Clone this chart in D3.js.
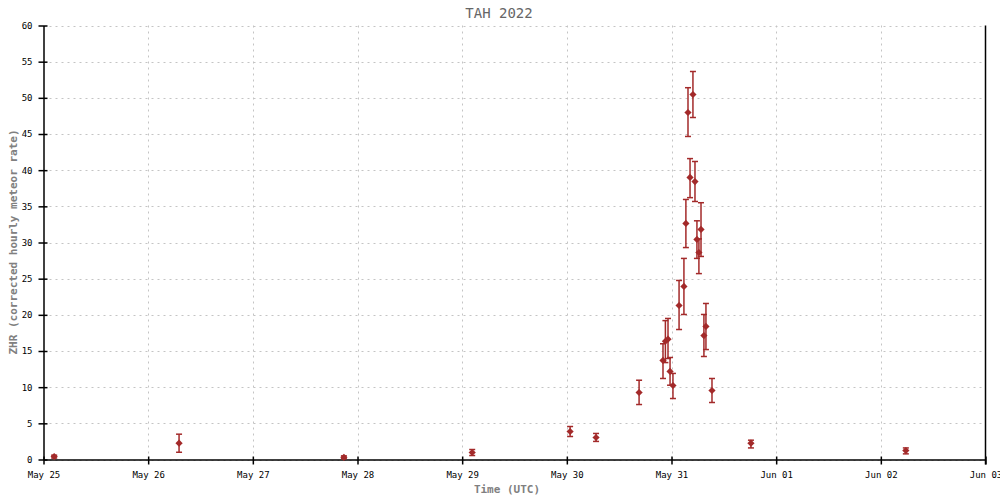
<!DOCTYPE html>
<html><head><meta charset="utf-8">
<script src="https://cdn.jsdelivr.net/npm/d3@7"></script>
<style>body{margin:0;background:#fff}svg{display:block}</style>
</head><body>
<svg id="c" width="1000" height="500"></svg>
<script>
const times = ["2022-05-25T02:27Z","2022-05-26T07:05Z","2022-05-27T20:53Z","2022-05-29T02:18Z","2022-05-30T00:45Z","2022-05-30T06:42Z","2022-05-30T16:34Z","2022-05-30T22:03Z","2022-05-30T22:36Z","2022-05-30T23:12Z","2022-05-30T23:40Z","2022-05-31T00:20Z","2022-05-31T01:44Z","2022-05-31T02:51Z","2022-05-31T03:18Z","2022-05-31T03:47Z","2022-05-31T04:15Z","2022-05-31T04:55Z","2022-05-31T05:23Z","2022-05-31T05:50Z","2022-05-31T06:17Z","2022-05-31T06:46Z","2022-05-31T07:26Z","2022-05-31T07:54Z","2022-05-31T09:17Z","2022-05-31T18:13Z","2022-06-02T05:44Z"];
const zhr   = [0.4,2.25,0.3,0.97,3.87,3.04,9.26,13.69,16.35,16.63,12.17,10.23,21.29,23.92,32.63,47.97,38.99,50.46,38.43,30.42,28.62,31.8,17.14,18.39,9.54,2.25,1.24];
const errLo = [0.2,1.0,0.1,0.55,3.18,2.5,7.6,11.2,13.4,13.96,10.27,8.43,17.97,20.05,29.3,44.66,36.2,47.28,35.67,27.8,25.7,28.07,14.24,15.2,7.88,1.6,0.78];
const errHi = [0.6,3.5,0.5,1.38,4.56,3.6,10.96,16.0,19.2,19.5,14.1,11.9,24.75,27.8,35.95,51.4,41.6,53.64,41.2,33.0,30.5,35.5,20.05,21.57,11.2,2.67,1.6];
const yTicks = [0,5,10,15,20,25,30,35,40,45,50,55,60];
const xTickDates = ["2022-05-25","2022-05-26","2022-05-27","2022-05-28","2022-05-29","2022-05-30","2022-05-31","2022-06-01","2022-06-02","2022-06-03"];
const title = "TAH 2022";
const xTitle = "Time (UTC)";
const yTitle = "ZHR (corrected hourly meteor rate)";

const svg = d3.select("#c");
const L = 43.5, R = 985.5, T = 25.5, B = 459.5;
const x = d3.scaleUtc().domain([new Date("2022-05-25T00:00Z"), new Date("2022-06-03T00:00Z")]).range([L, R]);
const y = d3.scaleLinear().domain([0, 60]).range([B, T]);
const fmt = d3.utcFormat("%b %d");
const xt = xTickDates.map(d => new Date(d + "T00:00Z"));
const mono = "'DejaVu Sans Mono', 'Liberation Mono', monospace";
const grid = "#c4c4c4";
const red = "#a32a2a";

// grid
const g = svg.append("g");
g.selectAll("line.gy").data(yTicks).join("line")
  .attr("x1", L).attr("x2", R).attr("y1", d => Math.round(y(d)) + 0.5).attr("y2", d => Math.round(y(d)) + 0.5)
  .attr("stroke", grid).attr("stroke-dasharray", "2,4");
g.selectAll("line.gx").data(xt.slice(1, -1)).join("line")
  .attr("x1", d => Math.round(x(d)) + 0.5).attr("x2", d => Math.round(x(d)) + 0.5).attr("y1", T).attr("y2", B)
  .attr("stroke", grid).attr("stroke-dasharray", "2,4");

// axes
const xAxis = d3.axisBottom(x).tickValues(xt).tickFormat(fmt).tickSizeInner(5).tickSizeOuter(0).tickPadding(7);
const gx = svg.append("g").attr("transform", `translate(0,${B})`).call(xAxis);
gx.selectAll(".tick line").attr("y1", -3).attr("stroke", "#000").attr("stroke-width", 1.5);
gx.select(".domain").attr("stroke", "#000").attr("stroke-width", 1.5);
gx.selectAll("text").attr("font-family", mono).attr("font-size", 9).attr("fill", "#000");

const yAxis = d3.axisLeft(y).tickValues(yTicks).tickSizeInner(5).tickSizeOuter(0).tickPadding(6);
const gy = svg.append("g").attr("transform", `translate(${L},0)`).call(yAxis);
gy.selectAll(".tick line").attr("x1", 4).attr("stroke", "#000").attr("stroke-width", 1.5);
gy.select(".domain").attr("stroke", "#000").attr("stroke-width", 1.5);
gy.selectAll("text").attr("font-family", mono).attr("font-size", 9).attr("fill", "#000");

// right border
svg.append("line").attr("x1", R).attr("x2", R).attr("y1", T).attr("y2", B + 5).attr("stroke", "#000").attr("stroke-width", 1.5);

// data
const data = times.map((t, i) => ({t: new Date(t), v: zhr[i], lo: errLo[i], hi: errHi[i]}));
const pts = svg.append("g");
const eb = pts.selectAll("g.e").data(data).join("g").attr("stroke", red).attr("stroke-width", 1.5);
eb.append("line").attr("x1", d => x(d.t)).attr("x2", d => x(d.t)).attr("y1", d => y(d.lo)).attr("y2", d => y(d.hi));
eb.append("line").attr("x1", d => x(d.t) - 3).attr("x2", d => x(d.t) + 3).attr("y1", d => y(d.lo)).attr("y2", d => y(d.lo));
eb.append("line").attr("x1", d => x(d.t) - 3).attr("x2", d => x(d.t) + 3).attr("y1", d => y(d.hi)).attr("y2", d => y(d.hi));
pts.selectAll("path.m").data(data).join("path")
  .attr("d", d3.symbol().type(d3.symbolSquare).size(26))
  .attr("transform", d => `translate(${x(d.t)},${y(d.v)}) rotate(45)`)
  .attr("fill", red);

// titles
svg.append("text").attr("x", 499).attr("y", 18).attr("text-anchor", "middle")
  .attr("font-family", mono).attr("font-size", 14).attr("fill", "#666").text(title);
svg.append("text").attr("x", 507).attr("y", 493).attr("text-anchor", "middle")
  .attr("font-family", mono).attr("font-size", 11).attr("font-weight", "bold").attr("fill", "#808080").text(xTitle);
svg.append("text").attr("transform", "translate(17,242) rotate(-90)").attr("text-anchor", "middle")
  .attr("font-family", mono).attr("font-size", 11).attr("font-weight", "bold").attr("fill", "#808080").text(yTitle);
</script>
</body></html>
